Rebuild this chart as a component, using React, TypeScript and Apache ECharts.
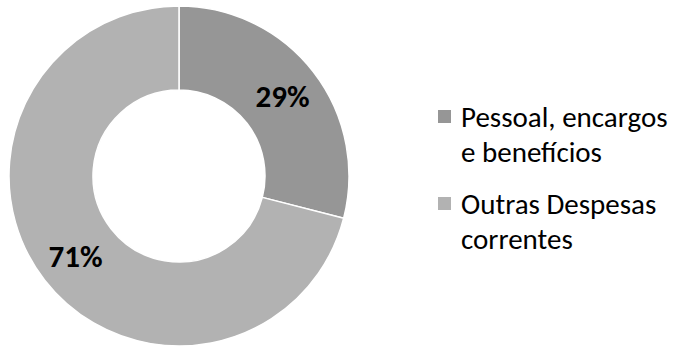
import React, { useEffect, useRef } from "react";
import * as echarts from "echarts";

const categories = ["Pessoal, encargos e benefícios", "Outras Despesas correntes"];
const legendLines = [
  ["Pessoal, encargos", "e benefícios"],
  ["Outras Despesas", "correntes"],
];
const values = [29, 71];
const colors = ["#969696", "#b2b2b2"];

export default function App() {
  const ref = useRef<HTMLDivElement>(null);
  useEffect(() => {
    if (!ref.current) return;
    const chart = echarts.init(ref.current, null, { renderer: "svg" });
    const font = "Carlito, Lato, sans-serif";
    const rich: any = {
      t: { fontSize: 29, fontFamily: font, color: "#000", lineHeight: 35 },
      sp: { width: 23, height: 12 },
    };
    colors.forEach((c, i) => {
      rich["sq" + i] = { width: 13, height: 13, backgroundColor: c };
      rich["g" + i] = { width: 10, height: 12 };
    });
    chart.setOption({
      animation: false,
      color: colors,
      legend: {
        orient: "vertical",
        left: 432,
        top: 99,
        padding: 0,
        itemWidth: 0,
        itemHeight: 0,
        itemGap: 17,
        selectedMode: false,
        data: categories,
        formatter: (name: string) => {
          const i = categories.indexOf(name);
          const l = legendLines[i];
          return `{sq${i}|}{g${i}|}{t|${l[0]}}\n{sp|}{t|${l[1]}}`;
        },
        textStyle: { rich, fontSize: 29, fontFamily: font, lineHeight: 35 },
      },
      series: [
        {
          type: "pie",
          center: [179, 176],
          radius: [86, 170],
          startAngle: 90,
          clockwise: true,
          itemStyle: { borderColor: "#ffffff", borderWidth: 1.5 },
          label: {
            show: true,
            position: "inside",
            formatter: "{c}%",
            fontSize: 31,
            fontWeight: "bold",
            fontFamily: font,
            color: "#000",
          },
          labelLine: { show: false },
          emphasis: { disabled: true },
          data: categories.map((n, i) => ({ name: n, value: values[i] })),
        },
      ],
    });
    return () => chart.dispose();
  }, []);
  return (
    <div
      ref={ref}
      style={{ position: "fixed", left: 0, top: 0, width: 674, height: 347, background: "#fff" }}
    />
  );
}
